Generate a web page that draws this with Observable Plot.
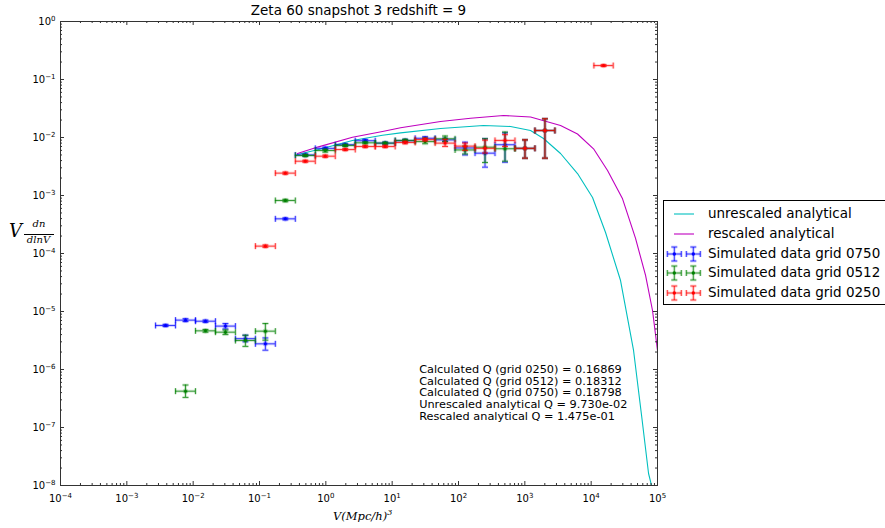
<!DOCTYPE html>
<html><head><meta charset="utf-8">
<script src="https://cdn.jsdelivr.net/npm/d3@7"></script>
<script src="https://cdn.jsdelivr.net/npm/@observablehq/plot@0.6"></script>
<style>
body{margin:0;background:#fff;font-family:"DejaVu Sans",sans-serif;}
#wrap{position:relative;width:885px;height:528px;overflow:hidden;background:#fff;}
#chart{position:absolute;left:0;top:0;}
#title{position:absolute;left:60px;width:597px;top:4px;text-align:center;font-size:13.5px;line-height:1;color:#000;}
#legend{position:absolute;left:663px;top:200px;width:240px;height:103px;border:1px solid #000;background:#fff;}
.row{position:absolute;left:0;height:20px;width:240px;}
.row svg{position:absolute;left:0;top:0;}
.row span{position:absolute;left:44px;top:3px;font-size:13.5px;line-height:1;color:#000;white-space:nowrap;}
#ylab{position:absolute;left:9px;top:219px;font-family:"DejaVu Serif",serif;font-style:italic;color:#000;}
#xlab{position:absolute;left:333px;top:508px;font-family:"DejaVu Serif",serif;font-style:italic;font-size:11.5px;color:#000;white-space:nowrap;}
</style></head>
<body>
<div id="wrap">
<div id="chart"></div>
<div id="title">Zeta 60 snapshot 3 redshift = 9</div>
<div id="legend"></div>
<div id="ylab"></div>
<div id="xlab">V(Mpc/h)<sup style="font-size:8px">3</sup></div>
</div>
<script>
// ---- data ----
const xTicks = [1e-4, 1e-3, 1e-2, 1e-1, 1, 10, 100, 1e3, 1e4, 1e5];
const yTicks = [1e-8, 1e-7, 1e-6, 1e-5, 1e-4, 1e-3, 1e-2, 1e-1, 1];

// volume bin edges
const binEdges = [0.00271, 0.00542, 0.01084, 0.02168, 0.04336, 0.08672, 0.1734, 0.3469, 0.6938, 1.388, 2.775, 5.55, 11.1, 22.2, 44.4, 88.8, 177.6, 355.2, 710.5, 1421, 2842, 5684, 11000, 21500];

// analytical curves
const unrescX = [0.374, 0.776, 2.52, 7.15, 13.4, 53.6, 238, 608, 1219, 1914, 3454, 6227, 10490, 16480, 27730, 43550, 57540, 73300, 81300];
const unrescY = [5.09e-3, 6.21e-3, 8.87e-3, 1.09e-2, 1.20e-2, 1.43e-2, 1.61e-2, 1.55e-2, 1.32e-2, 9.6e-3, 5.3e-3, 2.39e-3, 9.24e-4, 2.30e-4, 3.42e-5, 2.13e-6, 1.61e-7, 1.61e-8, 1e-8];
const rescX = [0.374, 0.776, 2.52, 7.15, 13.4, 53.6, 152, 477, 1219, 3454, 6227, 10860, 17660, 29720, 46670, 66070, 84140, 100000];
const rescY = [5.3e-3, 6.9e-3, 1.01e-2, 1.27e-2, 1.47e-2, 1.89e-2, 2.15e-2, 2.39e-2, 2.26e-2, 1.61e-2, 1.15e-2, 6.38e-3, 2.70e-3, 8.77e-4, 1.82e-4, 4.18e-5, 1.04e-5, 2.13e-6];

// simulated data grid 0750 (blue)
const g750Bin = [0, 1, 2, 3, 4, 5, 6, 7, 8, 9, 10, 11, 12, 13, 14, 15, 16, 17, 18, 19];
const g750V  = [5.74e-6, 7.1e-6, 6.8e-6, 5.6e-6, 3.4e-6, 2.77e-6, 3.96e-4, 5.0e-3, 6.5e-3, 7.5e-3, 8.8e-3, 8.0e-3, 8.8e-3, 9.7e-3, 9.1e-3, 6.6e-3, 5.37e-3, 7.5e-3, 6.5e-3, 1.32e-2];
const g750Lo = [5.5e-6, 6.7e-6, 6.5e-6, 5.0e-6, 3.0e-6, 2.15e-6, 3.8e-4, 4.8e-3, 6.2e-3, 7.2e-3, 8.4e-3, 7.7e-3, 8.3e-3, 9.1e-3, 8.5e-3, 5.0e-3, 3.08e-3, 3.75e-3, 4.4e-3, 4.4e-3];
const g750Hi = [6.0e-6, 7.5e-6, 7.1e-6, 6.2e-6, 3.9e-6, 3.5e-6, 4.1e-4, 5.2e-3, 6.8e-3, 7.8e-3, 9.2e-3, 8.3e-3, 9.3e-3, 1.03e-2, 9.7e-3, 8.3e-3, 9.5e-3, 1.2e-2, 9.1e-3, 2.1e-2];

// simulated data grid 0512 (green)
const g512Bin = [1, 2, 3, 4, 5, 6, 7, 8, 9, 10, 11, 12, 13, 14, 15, 16, 17, 18, 19];
const g512V  = [4.23e-7, 4.64e-6, 4.4e-6, 3.16e-6, 4.58e-6, 8.2e-4, 4.9e-3, 5.97e-3, 7.3e-3, 8.1e-3, 8.0e-3, 8.9e-3, 8.5e-3, 9.5e-3, 6.1e-3, 6.8e-3, 6.4e-3, 6.5e-3, 1.32e-2];
const g512Lo = [3.3e-7, 4.4e-6, 4.0e-6, 2.5e-6, 3.2e-6, 7.8e-4, 4.7e-3, 5.6e-3, 7.0e-3, 7.8e-3, 7.7e-3, 8.5e-3, 7.8e-3, 8.5e-3, 5.2e-3, 3.7e-3, 3.9e-3, 4.4e-3, 4.4e-3];
const g512Hi = [5.4e-7, 4.9e-6, 4.8e-6, 3.9e-6, 6.2e-6, 8.6e-4, 5.1e-3, 6.3e-3, 7.6e-3, 8.4e-3, 8.3e-3, 9.3e-3, 9.8e-3, 1.06e-2, 7.1e-3, 9.5e-3, 1.24e-2, 9.1e-3, 2.1e-2];

// simulated data grid 0250 (red)
const g250Bin = [5, 6, 7, 8, 9, 10, 11, 12, 13, 14, 15, 16, 17, 18, 19, 22];
const g250V  = [1.34e-4, 2.43e-3, 3.9e-3, 4.76e-3, 6.2e-3, 7.0e-3, 7.0e-3, 8.2e-3, 9.2e-3, 8.0e-3, 7.1e-3, 6.5e-3, 8.9e-3, 6.5e-3, 1.32e-2, 0.174];
const g250Lo = [1.28e-4, 2.33e-3, 3.75e-3, 4.55e-3, 5.95e-3, 6.7e-3, 6.7e-3, 7.8e-3, 8.7e-3, 7.0e-3, 6.0e-3, 5.4e-3, 7.0e-3, 4.4e-3, 4.4e-3, 0.168];
const g250Hi = [1.40e-4, 2.53e-3, 4.05e-3, 4.97e-3, 6.45e-3, 7.3e-3, 7.3e-3, 8.6e-3, 9.7e-3, 9.3e-3, 8.0e-3, 9.0e-3, 1.12e-2, 9.1e-3, 2.1e-2, 0.180];

const annotation = [
  "Calculated Q (grid 0250) = 0.16869",
  "Calculated Q (grid 0512) = 0.18312",
  "Calculated Q (grid 0750) = 0.18798",
  "Unrescaled analytical Q = 9.730e-02",
  "Rescaled analytical Q = 1.475e-01"
];
const annotX = 25.5, annotY = 1.23e-6;

const seriesNames = ["unrescaled analytical", "rescaled analytical", "Simulated data grid 0750", "Simulated data grid 0512", "Simulated data grid 0250"];
const colors = {cyan: "#00bfbf", magenta: "#bf00bf", blue: "#0000ff", green: "#008000", red: "#ff0000"};

// ---- build ----
const fmt = v => "10^" + Math.round(Math.log10(v));

function minorTicks(lo, hi) {
  const a = [];
  for (let e = lo; e < hi; e++) for (let m = 2; m < 10; m++) a.push(m * Math.pow(10, e));
  return a;
}
const xMinor = minorTicks(-4, 5);
const yMinor = minorTicks(-8, 0);

const toPts = (xs, ys) => xs.map((x, i) => ({x, y: ys[i]}));
const toBars = (bins, v, lo, hi) => bins.map((k, i) => ({
  x: Math.sqrt(binEdges[k] * binEdges[k + 1]), x1: binEdges[k], x2: binEdges[k + 1],
  y: v[i], y1: lo[i], y2: hi[i]
}));

const capV = {draw(ctx, size) { const r = Math.sqrt(size / Math.PI); ctx.moveTo(0, -r); ctx.lineTo(0, r); }};
const capH = {draw(ctx, size) { const r = Math.sqrt(size / Math.PI); ctx.moveTo(-r, 0); ctx.lineTo(r, 0); }};

function errMarks(data, c) {
  const layer = (sw, op) => [
    Plot.ruleY(data, {y: "y", x1: "x1", x2: "x2", stroke: c, strokeWidth: sw, strokeOpacity: op}),
    Plot.ruleX(data, {x: "x", y1: "y1", y2: "y2", stroke: c, strokeWidth: sw, strokeOpacity: op}),
    Plot.dot(data, {x: "x1", y: "y", symbol: capV, r: 3, fill: "none", stroke: c, strokeWidth: sw, strokeOpacity: op}),
    Plot.dot(data, {x: "x2", y: "y", symbol: capV, r: 3, fill: "none", stroke: c, strokeWidth: sw, strokeOpacity: op}),
    Plot.dot(data, {x: "x", y: "y1", symbol: capH, r: 3, fill: "none", stroke: c, strokeWidth: sw, strokeOpacity: op}),
    Plot.dot(data, {x: "x", y: "y2", symbol: capH, r: 3, fill: "none", stroke: c, strokeWidth: sw, strokeOpacity: op})
  ];
  return [
    ...layer(3, 0.16),
    ...layer(1, 0.75),
    Plot.dot(data, {x: "x", y: "y", r: 2.6, fill: c, fillOpacity: 0.25, stroke: "none"}),
    Plot.dot(data, {x: "x", y: "y", r: 1.5, fill: c, stroke: "none"})
  ];
}

const W = 597, H = 464;
const axisStroke = "#333";

const chart = Plot.plot({
  width: 885, height: 528,
  marginLeft: 60, marginRight: 228, marginTop: 21, marginBottom: 43,
  style: {fontFamily: "DejaVu Sans, sans-serif", fontSize: "10px", background: "transparent", color: "#000"},
  x: {type: "log", domain: [1e-4, 1e5]},
  y: {type: "log", domain: [1e-8, 1]},
  marks: [
    Plot.line(toPts(unrescX, unrescY), {x: "x", y: "y", stroke: colors.cyan, strokeWidth: 1.1, clip: true}),
    Plot.line(toPts(rescX, rescY), {x: "x", y: "y", stroke: colors.magenta, strokeWidth: 1.1, clip: true}),
    ...errMarks(toBars(g750Bin, g750V, g750Lo, g750Hi), colors.blue),
    ...errMarks(toBars(g512Bin, g512V, g512Lo, g512Hi), colors.green),
    ...errMarks(toBars(g250Bin, g250V, g250Lo, g250Hi), colors.red),
    Plot.text([annotation.join("\n")], {x: () => annotX, y: () => annotY, text: d => d, textAnchor: "start", lineAnchor: "top", fontSize: 11.3, lineHeight: 1.05, fill: "#000"}),
    Plot.frame({stroke: axisStroke}),
    Plot.tickX(xTicks, {x: d => d, insetTop: H - 4, stroke: axisStroke}),
    Plot.tickX(xTicks, {x: d => d, insetBottom: H - 4, stroke: axisStroke}),
    Plot.tickX(xMinor, {x: d => d, insetTop: H - 2, stroke: axisStroke}),
    Plot.tickX(xMinor, {x: d => d, insetBottom: H - 2, stroke: axisStroke}),
    Plot.tickY(yTicks, {y: d => d, insetRight: W - 4, stroke: axisStroke}),
    Plot.tickY(yTicks, {y: d => d, insetLeft: W - 4, stroke: axisStroke}),
    Plot.tickY(yMinor, {y: d => d, insetRight: W - 2, stroke: axisStroke}),
    Plot.tickY(yMinor, {y: d => d, insetLeft: W - 2, stroke: axisStroke}),
    Plot.axisX({ticks: xTicks, tickFormat: fmt, tickSize: 0, tickPadding: 9, label: null, fontSize: 10}),
    Plot.axisY({ticks: yTicks, tickFormat: fmt, tickSize: 0, tickPadding: 5, label: null, fontSize: 10})
  ]
});
document.getElementById("chart").appendChild(chart);

// render "10^e" tick labels with a real superscript
chart.querySelectorAll("text").forEach(t => {
  const m = /^10\^(-?\d+)$/.exec(t.textContent);
  if (!m) return;
  const ns = "http://www.w3.org/2000/svg";
  t.textContent = "";
  const base = document.createElementNS(ns, "tspan");
  base.textContent = "10";
  const sup = document.createElementNS(ns, "tspan");
  sup.setAttribute("dy", "-4");
  sup.setAttribute("font-size", "7px");
  sup.textContent = m[1].replace("-", "\u2212");
  t.appendChild(base);
  t.appendChild(sup);
});

// ---- legend ----
const legendItems = [
  {name: seriesNames[0], color: colors.cyan, kind: "line"},
  {name: seriesNames[1], color: colors.magenta, kind: "line"},
  {name: seriesNames[2], color: colors.blue, kind: "err"},
  {name: seriesNames[3], color: colors.green, kind: "err"},
  {name: seriesNames[4], color: colors.red, kind: "err"}
];
const rowCenters = [13, 32.7, 52.7, 72, 92];
const legend = document.getElementById("legend");
legendItems.forEach((it, i) => {
  const row = document.createElement("div");
  row.className = "row";
  row.style.top = (rowCenters[i] - 10) + "px";
  let g = "";
  if (it.kind === "line") {
    g = `<line x1="10" x2="30" y1="10" y2="10" stroke="${it.color}" stroke-width="1.1"/>`;
  } else {
    const cross = cx => {
      const parts = (sw, op) => `<g stroke="${it.color}" stroke-width="${sw}" stroke-opacity="${op}" fill="none">
        <line x1="${cx - 7}" x2="${cx + 7}" y1="10" y2="10"/><line x1="${cx}" x2="${cx}" y1="3" y2="17"/>
        <line x1="${cx - 7}" x2="${cx - 7}" y1="7" y2="13"/><line x1="${cx + 7}" x2="${cx + 7}" y1="7" y2="13"/>
        <line x1="${cx - 3}" x2="${cx + 3}" y1="3" y2="3"/><line x1="${cx - 3}" x2="${cx + 3}" y1="17" y2="17"/></g>`;
      return parts(3, 0.16) + parts(1, 0.75) + `<circle cx="${cx}" cy="10" r="1.7" fill="${it.color}"/>`;
    };
    g = cross(10.3) + cross(29.3);
  }
  row.innerHTML = `<svg width="42" height="20">${g}</svg><span>${it.name}</span>`;
  legend.appendChild(row);
});

// ---- y axis label ----
document.getElementById("ylab").innerHTML =
  `<span style="position:absolute;left:0;top:3px;font-size:18px;line-height:1">V</span>` +
  `<span style="position:absolute;left:16px;top:0;width:28px;text-align:center;font-size:10px;line-height:1">dn</span>` +
  `<span style="position:absolute;left:15px;top:14.5px;width:30px;height:0;border-top:0.8px solid #000"></span>` +
  `<span style="position:absolute;left:13px;top:16px;width:33px;text-align:center;font-size:10px;line-height:1">dlnV</span>`;
</script>
</body></html>
